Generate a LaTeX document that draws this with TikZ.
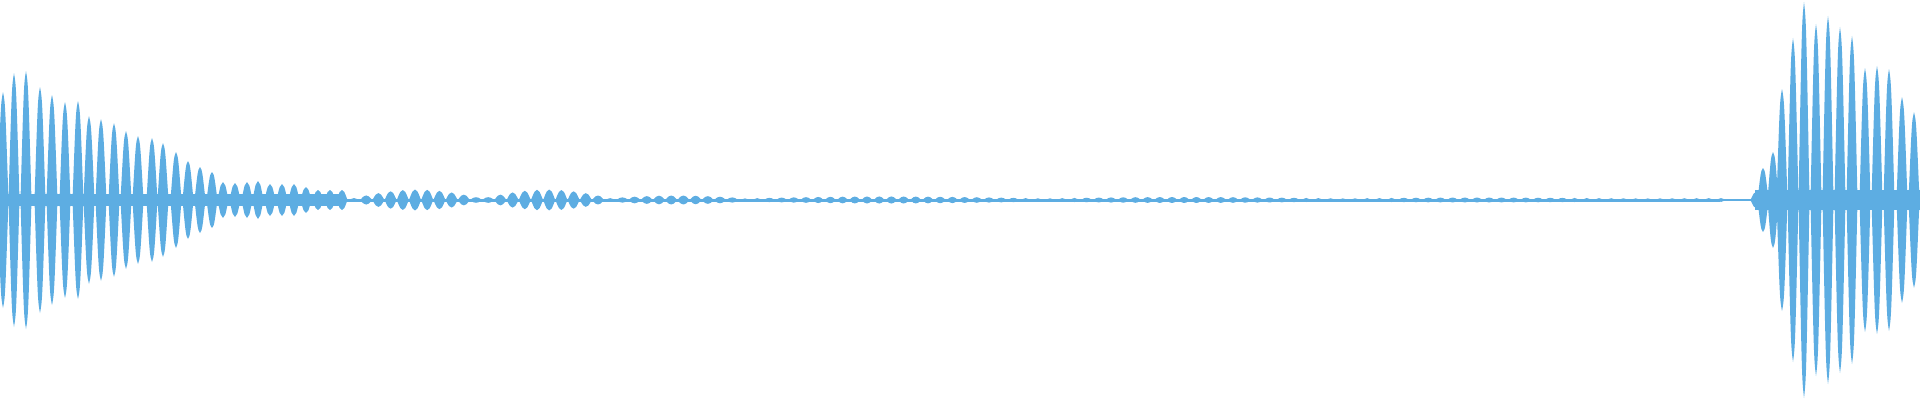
\documentclass[tikz,border=0pt]{standalone}
\begin{document}
\begin{tikzpicture}[x=1pt,y=1pt]
\definecolor{wave}{HTML}{5DADE2}
\useasboundingbox (0,0) rectangle (1920,400);
\def\spindle#1#2#3{% x, amp, halfwidth
  \fill[wave] ({#1-#3},200) .. controls ({#1-0.4*#3},{200+0.9*#2}) .. ({#1},{200+#2}) .. controls ({#1+0.4*#3},{200+0.9*#2}) .. ({#1+#3},200)
   .. controls ({#1+0.4*#3},{200-0.9*#2}) .. ({#1},{200-#2}) .. controls ({#1-0.4*#3},{200-0.9*#2}) .. ({#1-#3},200) -- cycle;}
% center bands
\fill[wave] (0,194) rectangle (345,206);
\fill[wave] (345,198.5) rectangle (1720,201.5);
\fill[wave] (1720,199.3) rectangle (1755,200.7);
\fill[wave] (1755,190) rectangle (1920,210);
% left decaying bursts
\foreach \x/\a in {3/108,14/127,26/129,40/113,52/105,65/98,78/99,89/84,101/81,114/77,126/69,138/64,152/62,163/57,176/48,188/39,200/33,212/28,223/18,235/17,247/18,258/19,270/16,282/16,294/16,306/13,318/10,330/10,342/10}
  {\spindle{\x}{\a}{5.5}}
% middle beats
\foreach \i in {0,...,31}{
  \pgfmathsetmacro\x{354+12.2*\i}
  \pgfmathsetmacro\s{abs(sin((\x-352)/130*180))}
  \pgfmathsetmacro\a{(\x<620 ? 1.5+9*\s : 2+2.5*\s)}
  \spindle{\x}{\a}{6}}
% far region
\foreach \i in {0,...,80}{
  \pgfmathsetmacro\x{745+12.2*\i}
  \pgfmathsetmacro\a{1.6+(2.2-0.0018*(\x-745))*abs(sin((\x-745)/300*180))}
  \spindle{\x}{\a}{5.5}}
% right bursts
\foreach \x/\a in {1756/8,1763/32,1773/48,1782/111,1793/162,1804/198,1816/176,1828/184,1840/173,1852/164,1865/132,1877/134,1889/131,1902/103,1914/88,1925/80}
  {\spindle{\x}{\a}{5.5}}
\end{tikzpicture}
\end{document}
